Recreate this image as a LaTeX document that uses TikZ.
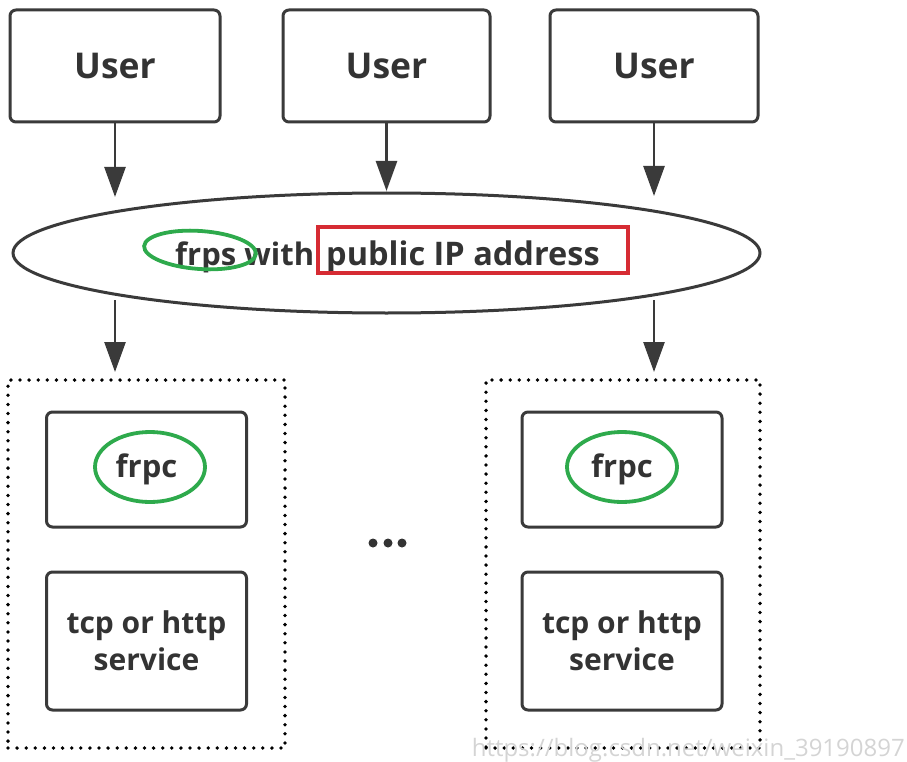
\documentclass[tikz,border=0pt]{standalone}
\usepackage{fontspec}
\setsansfont{Open Sans}
\usetikzlibrary{arrows.meta,shapes.geometric}
\definecolor{ink}{HTML}{333333}
\definecolor{edge}{HTML}{3A3A3A}
\definecolor{mark}{HTML}{2EAA4C}
\definecolor{redbox}{HTML}{D62B33}
\definecolor{wm}{HTML}{D4D4D4}
\tikzset{
  box/.style={draw=edge, line width=3pt, rounded corners=6pt, fill=white,
    inner sep=0pt, outer sep=0pt, text=ink,
    font=\sffamily\bfseries\fontsize{30}{37}\selectfont, align=center},
  userbox/.style={box, minimum width=208pt, minimum height=112pt,
    font=\sffamily\bfseries\fontsize{35.5}{40}\selectfont},
  innerbox/.style={box, minimum width=200pt},
  group/.style={draw=black, line width=3.8pt, line cap=round,
    dash pattern=on 0pt off 9.1pt, inner sep=0pt, outer sep=0pt},
  hub/.style={ellipse, draw=edge, line width=3pt, inner sep=0pt, outer sep=0pt},
  ring/.style={ellipse, draw=mark, line width=3.8pt, inner sep=0pt},
  link/.style={draw=edge, line width=2.6pt,
    -{Triangle[length=30pt,width=21pt]}},
  lbl/.style={text=ink, inner sep=0pt,
    font=\sffamily\bfseries\fontsize{31}{36}\selectfont}
}
\begin{document}
\begin{tikzpicture}[x=1pt,y=-1pt]
  \useasboundingbox (0,0) rectangle (907,762);

  % users
  \node[userbox, minimum width=210pt] (u1) at (115,66) {User};
  \node[userbox, minimum width=207pt] (u2) at (386.5,66) {User};
  \node[userbox] (u3) at (654,66) {User};

  % frp server
  \node[hub, minimum width=747pt, minimum height=120pt] (srv) at (386.5,253) {};
  \node[lbl, anchor=base west] (t1) at (175,265) {frps with};
  \node[lbl, anchor=base west, font=\sffamily\bfseries\fontsize{32.5}{36}\selectfont]
    (t2) at (326,265) {public IP address};
  \node[ring, minimum width=112pt, minimum height=38pt, rotate=-4] (r0) at (200,250) {};
  \node[draw=redbox, line width=3.8pt, minimum width=310pt, minimum height=46pt,
        inner sep=0pt] (pub) at (473,250) {};

  % arrow end points above the ellipse
  \coordinate (e1) at (115,197);
  \coordinate (e2) at (386.5,191);
  \coordinate (e3) at (654,196);
  \draw[link] (u1.south) -- (e1);
  \draw[link] (u2.south) -- (e2);
  \draw[link] (u3.south) -- (e3);

  % client groups
  \node[group, minimum width=277pt, minimum height=368pt] (g1) at (146.5,564) {};
  \node[group, minimum width=274pt, minimum height=368pt] (g2) at (623,564) {};

  \coordinate (s1top) at (115,300);
  \coordinate (s3top) at (654,300);
  \coordinate (d1) at (115,372);
  \coordinate (d3) at (654,372);
  \draw[link] (s1top) -- (d1);
  \draw[link] (s3top) -- (d3);

  \node[innerbox, minimum height=115pt, font=\sffamily\bfseries\fontsize{31}{36}\selectfont]
    (c1) at (146.5,469.5) {frpc};
  \node[innerbox, minimum height=138pt] (s1) at (146.5,641) {tcp or http\\service};
  \node[innerbox, minimum height=115pt, font=\sffamily\bfseries\fontsize{31}{36}\selectfont]
    (c2) at (622,469.5) {frpc};
  \node[innerbox, minimum height=138pt] (s2) at (622,641) {tcp or http\\service};

  \node[ring, minimum width=110pt, minimum height=70pt] (r1) at (150,467) {};
  \node[ring, minimum width=110pt, minimum height=70pt] (r2) at (622,467) {};

  % ellipsis between the groups
  \foreach \i/\x in {a/373,b/388,c/402}
    \node[circle, fill=ink, minimum size=9pt, inner sep=0pt] (dot\i) at (\x,543) {};

  % watermark
  \node[text=wm, font=\sffamily\fontsize{24}{26}\selectfont, anchor=east, inner sep=0pt]
    (wmk) at (905,750) {https://blog.csdn.net/weixin\_39190897};
\end{tikzpicture}
\end{document}
